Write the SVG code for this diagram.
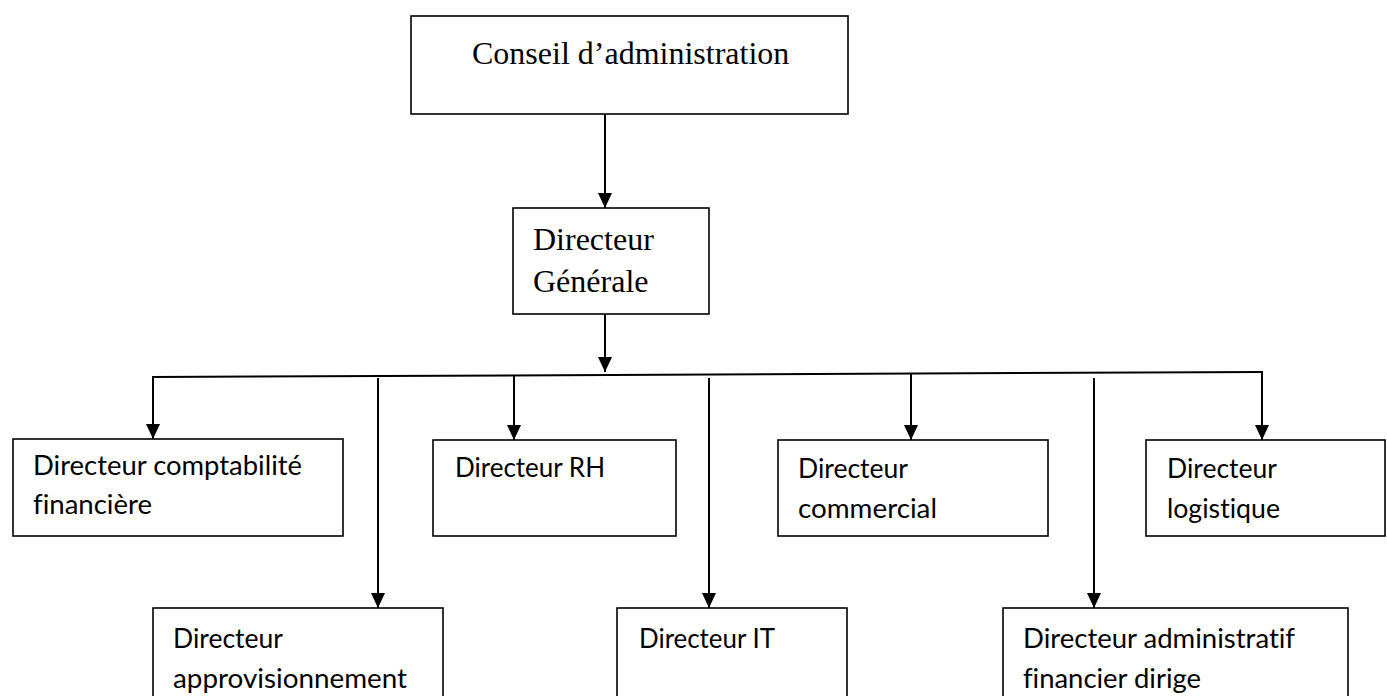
<svg xmlns="http://www.w3.org/2000/svg" width="1387" height="696" viewBox="0 0 1387 696">
  <style>
    .box { fill: #ffffff; stroke: #000000; stroke-width: 1.6; }
    .serif { font-family: "Liberation Serif", "Times New Roman", serif; font-size: 32px; fill: #000000; }
    .sans { font-family: Lato, "Open Sans", sans-serif; font-size: 26px; fill: #000000; font-variant-ligatures: none; }
    .link { fill: none; stroke: #000000; stroke-width: 2; }
    .arrow { marker-end: url(#head); }
  </style>
  <defs>
    <marker id="head" viewBox="0 0 15 14" refX="15" refY="7" markerUnits="userSpaceOnUse" markerWidth="15" markerHeight="14" orient="auto">
      <path d="M0,0 L15,7 L0,14 z" fill="#000000"/>
    </marker>
  </defs>
  <rect width="1387" height="696" fill="#ffffff"/>

  <!-- connectors -->
  <g id="connectors">
    <line class="link arrow" x1="605" y1="114" x2="605" y2="208"/>
    <line class="link arrow" x1="605" y1="314" x2="605" y2="372"/>
    <!-- distribution bar (slightly tilted) -->
    <line class="link" x1="152" y1="377" x2="1263" y2="372"/>
    <line class="link arrow" x1="153" y1="377" x2="153" y2="439"/>
    <line class="link arrow" x1="378" y1="378" x2="378" y2="608"/>
    <line class="link arrow" x1="514" y1="375" x2="514" y2="440"/>
    <line class="link arrow" x1="709" y1="378" x2="709" y2="608"/>
    <line class="link arrow" x1="911" y1="373" x2="911" y2="440"/>
    <line class="link arrow" x1="1094" y1="378" x2="1094" y2="608"/>
    <line class="link arrow" x1="1262" y1="372" x2="1262" y2="440"/>
  </g>

  <g id="conseil">
    <rect class="box" x="411" y="16" width="437" height="98"/>
    <text class="serif" x="472" y="64">Conseil d’administration</text>
  </g>

  <g id="directeur-generale">
    <rect class="box" x="513" y="208" width="196" height="106"/>
    <text class="serif" x="533" y="250">Directeur</text>
    <text class="serif" x="533" y="292">Générale</text>
  </g>

  <g id="comptabilite">
    <rect class="box" x="13" y="439" width="330" height="97"/>
    <text class="sans" x="33" y="475" textLength="269" lengthAdjust="spacingAndGlyphs">Directeur comptabilité</text>
    <text class="sans" x="33" y="514" textLength="119" lengthAdjust="spacingAndGlyphs">financière</text>
  </g>

  <g id="rh">
    <rect class="box" x="433" y="440" width="243" height="96"/>
    <text class="sans" x="455" y="477" textLength="150" lengthAdjust="spacingAndGlyphs">Directeur RH</text>
  </g>

  <g id="commercial">
    <rect class="box" x="778" y="440" width="270" height="96"/>
    <text class="sans" x="798" y="478" textLength="110" lengthAdjust="spacingAndGlyphs">Directeur</text>
    <text class="sans" x="798" y="518" textLength="139" lengthAdjust="spacingAndGlyphs">commercial</text>
  </g>

  <g id="logistique">
    <rect class="box" x="1146" y="440" width="239" height="96"/>
    <text class="sans" x="1167" y="478" textLength="110" lengthAdjust="spacingAndGlyphs">Directeur</text>
    <text class="sans" x="1167" y="518" textLength="113" lengthAdjust="spacingAndGlyphs">logistique</text>
  </g>

  <g id="approvisionnement">
    <rect class="box" x="153" y="608" width="290" height="100"/>
    <text class="sans" x="173" y="648" textLength="110" lengthAdjust="spacingAndGlyphs">Directeur</text>
    <text class="sans" x="173" y="688" textLength="234" lengthAdjust="spacingAndGlyphs">approvisionnement</text>
  </g>

  <g id="it">
    <rect class="box" x="617" y="608" width="230" height="100"/>
    <text class="sans" x="639" y="648" textLength="136" lengthAdjust="spacingAndGlyphs">Directeur IT</text>
  </g>

  <g id="administratif">
    <rect class="box" x="1003" y="608" width="345" height="100"/>
    <text class="sans" x="1023" y="648" textLength="272" lengthAdjust="spacingAndGlyphs">Directeur administratif</text>
    <text class="sans" x="1023" y="688" textLength="178" lengthAdjust="spacingAndGlyphs">financier dirige</text>
  </g>
</svg>
